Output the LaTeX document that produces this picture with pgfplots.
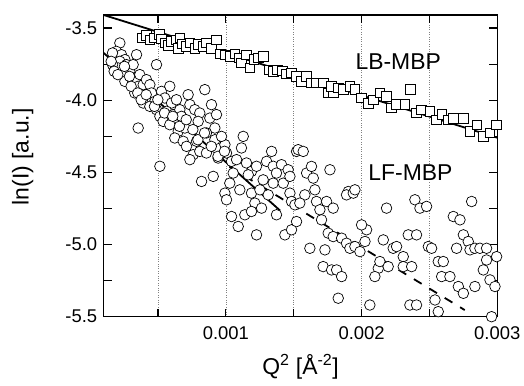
\documentclass[border=0pt]{standalone}
\usepackage{pgfplots}
\pgfplotsset{compat=1.18}
\usepackage{pgfplotstable}
\usepackage{fontspec}
\setmainfont{Liberation Sans}

\pgfplotstableread{
x y
0.000386 -3.569
0.000415 -3.551
0.000440 -3.581
0.000472 -3.569
0.000509 -3.546
0.000526 -3.574
0.000550 -3.604
0.000575 -3.620
0.000600 -3.592
0.000631 -3.581
0.000661 -3.569
0.000649 -3.639
0.000681 -3.611
0.000710 -3.627
0.000735 -3.604
0.000771 -3.639
0.000796 -3.615
0.000833 -3.627
0.000857 -3.604
0.000894 -3.639
0.000931 -3.581
0.000961 -3.680
0.000993 -3.685
0.001029 -3.696
0.001066 -3.680
0.001098 -3.708
0.001115 -3.742
0.001152 -3.685
0.001177 -3.777
0.001206 -3.719
0.001238 -3.708
0.001275 -3.696
0.001319 -3.789
0.001349 -3.800
0.001381 -3.789
0.001418 -3.796
0.001447 -3.819
0.001484 -3.812
0.001521 -3.835
0.001558 -3.870
0.001595 -3.835
0.001631 -3.881
0.001668 -3.881
0.001717 -3.881
0.001754 -3.950
0.001791 -3.950
0.001779 -3.904
0.001828 -3.916
0.001865 -3.927
0.001914 -3.904
0.001951 -3.927
0.002000 -3.985
0.002049 -4.020
0.002086 -3.997
0.002135 -3.950
0.002184 -3.973
0.002221 -4.054
0.002258 -4.031
0.002319 -4.031
0.002361 -3.927
0.002405 -4.089
0.002442 -4.066
0.002504 -4.077
0.002553 -4.135
0.002590 -4.100
0.002639 -4.135
0.002676 -4.124
0.002750 -4.124
0.002799 -4.216
0.002848 -4.170
0.002897 -4.251
0.002946 -4.227
0.002995 -4.170
}\lbdata

\pgfplotstableread{
x y
0.000219 -3.604
0.000194 -3.662
0.000231 -3.685
0.000256 -3.719
0.000219 -3.731
0.000206 -3.777
0.000268 -3.754
0.000292 -3.800
0.000243 -3.823
0.000256 -3.870
0.000317 -3.754
0.000342 -3.685
0.000305 -3.846
0.000342 -3.870
0.000366 -3.823
0.000354 -3.904
0.000329 -3.950
0.000391 -3.893
0.000415 -3.858
0.000440 -3.893
0.000378 -3.962
0.000415 -3.985
0.000452 -3.950
0.000477 -4.008
0.000391 -4.020
0.000440 -4.043
0.000489 -4.066
0.000354 -4.193
0.000489 -3.754
0.000526 -3.939
0.000587 -3.904
0.000550 -3.985
0.000600 -4.020
0.000636 -3.997
0.000563 -4.077
0.000612 -4.100
0.000514 -4.112
0.000538 -4.147
0.000587 -4.170
0.000661 -4.066
0.000673 -4.112
0.000649 -4.216
0.000698 -4.193
0.000624 -4.262
0.000686 -4.285
0.000735 -4.031
0.000722 -3.962
0.000771 -4.066
0.000808 -4.089
0.000796 -4.147
0.000845 -3.927
0.000894 -4.031
0.000882 -4.124
0.000931 -4.100
0.000919 -4.193
0.000857 -4.227
0.000784 -4.285
0.000710 -4.320
0.000759 -4.378
0.000735 -4.412
0.000808 -4.355
0.000857 -4.366
0.000931 -4.331
0.000943 -4.401
0.000993 -4.308
0.000919 -4.274
0.000968 -4.251
0.001005 -4.366
0.001042 -4.424
0.001079 -4.412
0.001128 -4.251
0.001115 -4.331
0.001152 -4.435
0.001189 -4.493
0.001226 -4.458
0.001300 -4.424
0.001337 -4.355
0.001349 -4.458
0.001410 -4.447
0.000514 -4.458
0.001521 -4.355
0.000165 -3.673
0.000165 -3.754
0.000177 -3.800
0.000155 -3.731
0.000204 -3.823
0.000253 -3.766
0.000290 -3.835
0.000302 -3.904
0.000351 -3.950
0.000376 -3.997
0.000413 -3.962
0.000474 -4.043
0.000499 -3.997
0.000548 -4.089
0.000609 -4.112
0.000658 -4.181
0.000708 -4.135
0.000757 -4.204
0.000794 -4.274
0.000843 -4.227
0.000893 -4.320
0.000942 -4.389
0.000990 -4.354
0.000821 -4.563
0.000907 -4.528
0.000993 -4.644
0.001005 -4.690
0.001029 -4.575
0.001054 -4.505
0.001103 -4.621
0.001165 -4.517
0.001189 -4.644
0.001214 -4.713
0.001251 -4.621
0.001275 -4.552
0.001312 -4.656
0.001349 -4.575
0.001373 -4.505
0.001423 -4.575
0.001459 -4.482
0.001472 -4.644
0.001484 -4.702
0.001042 -4.806
0.001091 -4.875
0.001140 -4.794
0.001189 -4.771
0.001226 -4.933
0.001263 -4.748
0.001373 -4.794
0.001435 -4.933
0.001484 -4.898
0.001521 -4.841
0.001509 -4.725
0.001472 -4.528
0.001582 -4.656
0.001545 -4.713
0.001595 -4.505
0.001631 -4.459
0.001644 -4.540
0.001656 -4.621
0.001668 -4.702
0.001693 -4.759
0.001705 -4.829
0.001742 -4.702
0.001791 -4.748
0.001767 -4.482
0.001754 -4.921
0.001730 -5.037
0.001791 -4.945
0.001853 -4.956
0.001889 -4.991
0.001914 -5.026
0.001951 -5.014
0.001988 -5.049
0.002025 -4.979
0.002037 -4.898
0.002000 -4.864
0.001619 -5.026
0.001717 -5.153
0.001779 -5.176
0.001816 -5.176
0.001853 -5.222
0.001828 -5.372
0.001902 -4.633
0.001889 -4.656
0.001939 -4.644
0.001951 -4.621
0.002061 -5.419
0.002184 -4.748
0.002123 -5.165
0.002098 -5.222
0.002135 -5.118
0.002160 -4.968
0.002196 -5.153
0.002233 -5.026
0.002258 -5.014
0.002307 -5.084
0.002307 -5.153
0.002344 -4.933
0.002369 -5.153
0.002405 -4.933
0.002393 -4.690
0.002430 -4.748
0.002479 -4.736
0.002356 -5.419
0.002405 -5.419
0.002492 -5.014
0.002516 -5.026
0.002565 -5.118
0.002602 -5.118
0.002590 -5.222
0.002651 -5.222
0.002541 -5.384
0.002565 -5.465
0.002676 -4.806
0.002725 -4.829
0.002700 -5.026
0.002750 -4.933
0.002811 -4.702
0.002786 -4.979
0.002799 -5.037
0.002835 -5.026
0.002872 -5.026
0.002921 -5.026
0.002897 -5.176
0.002946 -5.245
0.002835 -5.291
0.002713 -5.291
0.002750 -5.338
0.002921 -5.107
0.002958 -5.500
0.002995 -5.084
0.002983 -5.291
0.001533 -4.343
0.001570 -4.355
}\lfdata

\begin{document}
\begin{tikzpicture}
\begin{axis}[
  scale only axis,
  width=393.6bp, height=301.7bp,
  xmin=0.0001, xmax=0.003,
  ymin=-5.5, ymax=-3.41,
  xtick={0.0005,0.001,0.0015,0.002,0.0025,0.003},
  xticklabels={,0.001,,0.002,,0.003},
  ytick={-5.5,-5.25,-5,-4.75,-4.5,-4.25,-4,-3.75,-3.5},
  yticklabels={-5.5,,-5.0,,-4.5,,-4.0,,-3.5},
  scaled x ticks=false,
  tick align=inside,
  major tick length=8bp,
  tick style={black, line width=1.1bp},
  axis line style={line width=1.2bp},
  xmajorgrids,
  major grid style={gray, dotted, line width=0.6bp},
  tick label style={font=\fontsize{18.5}{20}\selectfont},
  xticklabel style={yshift=-6bp},
  yticklabel style={xshift=-3bp},
  label style={font=\fontsize{23}{26}\selectfont},
  xlabel={Q\textsuperscript{2} [Å\textsuperscript{-2}]},
  ylabel={ln(I) [a.u.]},
  xlabel style={at={(axis description cs:0.5,-0.193)}, anchor=base},
  ylabel style={at={(axis description cs:-0.206,0.53)}, anchor=center},
  clip=true,
]
\addplot[black, line width=1.8bp] coordinates {(0.0001,-3.41) (0.003,-4.26)};
\addplot[only marks, mark=square*, mark size=4.8bp,
  mark options={fill=white, draw=black, line width=0.7bp}] table {\lbdata};
\addplot[only marks, mark=*, mark size=5.3bp,
  mark options={fill=white, draw=black, line width=0.7bp}] table {\lfdata};
\addplot[black, line width=1.8bp] coordinates {(0.0001,-3.673) (0.0014,-4.765)};
\addplot[black, line width=1.8bp, dash pattern=on 9bp off 9bp] coordinates {(0.0008,-4.332) (0.00276,-5.454)};
\node[font=\fontsize{23}{26}\selectfont] at (axis cs:0.00227,-3.734) {LB-MBP};
\node[font=\fontsize{23}{26}\selectfont, fill=white, inner sep=1bp] at (axis cs:0.00236,-4.503) {LF-MBP};
\coordinate (SW) at (rel axis cs:0,0);
\coordinate (NE) at (rel axis cs:1,1);
\end{axis}
\pgfresetboundingbox
\path ([shift={(-103.7bp,-69.3bp)}]SW) rectangle ([shift={(26.7bp,15bp)}]NE);
\end{tikzpicture}
\end{document}
